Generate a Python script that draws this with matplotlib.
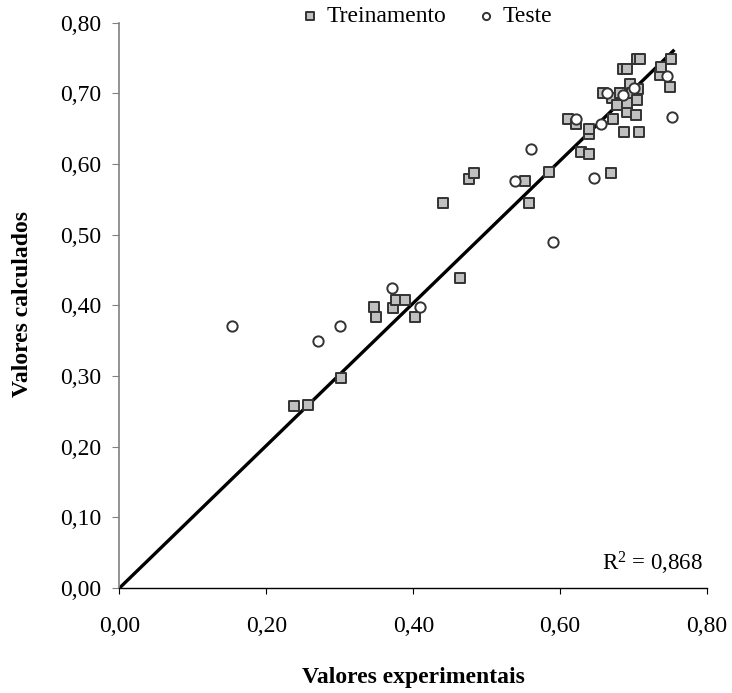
import matplotlib
matplotlib.use("Agg")
import matplotlib.pyplot as plt
from matplotlib.ticker import MultipleLocator, FuncFormatter
import numpy as np

plt.rcParams['font.family'] = ['Liberation Serif', 'DejaVu Serif']
plt.rcParams['mathtext.default'] = 'regular'

# Training set (experimental, calculated)
train_x = [0.237, 0.257, 0.302, 0.346, 0.349, 0.372, 0.377, 0.389, 0.402, 0.441,
           0.463, 0.476, 0.483, 0.552, 0.557, 0.585, 0.611, 0.621, 0.629, 0.640,
           0.640, 0.640, 0.659, 0.669, 0.672, 0.671, 0.677, 0.682, 0.687, 0.686,
           0.691, 0.691, 0.691, 0.695, 0.698, 0.703, 0.705, 0.706, 0.705, 0.709,
           0.708, 0.736, 0.738, 0.749, 0.751, 0.681]
train_y = [0.257, 0.259, 0.297, 0.397, 0.383, 0.396, 0.407, 0.407, 0.383, 0.545,
           0.439, 0.579, 0.588, 0.576, 0.545, 0.589, 0.664, 0.656, 0.617, 0.614,
           0.642, 0.649, 0.701, 0.588, 0.664, 0.693, 0.684, 0.701, 0.646, 0.735,
           0.735, 0.674, 0.686, 0.713, 0.700, 0.669, 0.690, 0.706, 0.749, 0.749,
           0.646, 0.726, 0.737, 0.709, 0.749, 0.701]

# Test set
test_x = [0.153, 0.270, 0.300, 0.371, 0.409, 0.538, 0.561, 0.590, 0.621, 0.646,
          0.656, 0.664, 0.686, 0.700, 0.745, 0.753]
test_y = [0.371, 0.349, 0.371, 0.424, 0.397, 0.576, 0.621, 0.489, 0.664, 0.580,
          0.656, 0.701, 0.698, 0.707, 0.725, 0.667]

# Fit line (through origin)
line_x = [0.0, 0.754]
slope = 1.008

fig = plt.figure(figsize=(7.32, 6.93), dpi=100)
ax = fig.add_axes([119.5/732, 1-588/693, (707-119.5)/732, (588-22.7)/693])

ax.plot(line_x, [slope*v for v in line_x], color='black', lw=2.4, zorder=2)
sq = ax.scatter(train_x, train_y, marker='s', s=55, facecolor='#c0c0c0',
                edgecolor='#333333', linewidths=1.4, zorder=3, label='Treinamento')
ci = ax.scatter(test_x, test_y, marker='o', s=55, facecolor='white',
                edgecolor='#333333', linewidths=1.4, zorder=4, label='Teste')

ax.set_xlim(0, 0.8)
ax.set_ylim(0, 0.8)
ax.xaxis.set_major_locator(MultipleLocator(0.2))
ax.yaxis.set_major_locator(MultipleLocator(0.1))
fmt = FuncFormatter(lambda v, p: f"{v:.2f}".replace('.', ','))
ax.xaxis.set_major_formatter(fmt)
ax.yaxis.set_major_formatter(fmt)
ax.tick_params(axis='both', direction='out', labelsize=17)
ax.tick_params(axis='x', length=4, pad=16)
ax.tick_params(axis='y', length=5, pad=8, color='#808080')
ax.spines['top'].set_visible(False)
ax.spines['right'].set_visible(False)
ax.spines['left'].set_color('#808080')
ax.spines['left'].set_linewidth(1.2)
ax.spines['bottom'].set_color('black')
ax.spines['bottom'].set_linewidth(1.0)

fig.text(703/732, 1-563/693, r'R$^{2}$ = 0,868', ha='right', va='center',
         fontsize=16.5)

fig.text((119.5+707)/2/732, 1-677/693, 'Valores experimentais', ha='center',
         va='center', fontsize=17, fontweight='bold')
fig.text(23/732, 1-304/693, 'Valores calculados', ha='center', va='center',
         rotation=90, fontsize=17, fontweight='bold')

fig.legend(handles=[sq, ci], loc='center', bbox_to_anchor=(0.579, 1-16/693),
           ncol=2, frameon=False, fontsize=17, handletextpad=0.1,
           columnspacing=1.1, markerscale=0.7, borderpad=0, handlelength=1.2)

fig.savefig('out.png', dpi=100)
